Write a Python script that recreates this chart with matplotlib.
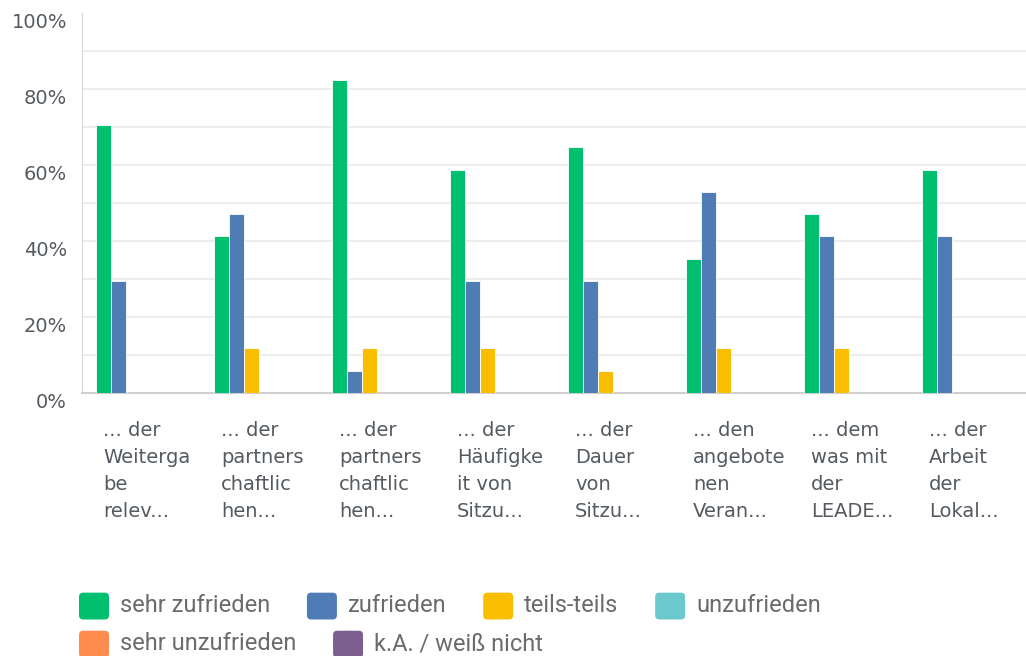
import numpy as np
import matplotlib
matplotlib.use('Agg')
import matplotlib.pyplot as plt
import matplotlib.transforms as mtransforms
from matplotlib.patches import FancyBboxPatch
from matplotlib.legend_handler import HandlerBase

categories = ['... der\nWeiterga\nbe\nrelev...',
              '... der\npartners\nchaftlic\nhen...',
              '... der\npartners\nchaftlic\nhen...',
              '... der\nHäufigke\nit von\nSitzu...',
              '... der\nDauer\nvon\nSitzu...',
              '... den\nangebote\nnen\nVeran...',
              '... dem\nwas mit\nder\nLEADE...',
              '... der\nArbeit\nder\nLokal...']

series = ['sehr zufrieden', 'zufrieden', 'teils-teils', 'unzufrieden',
          'sehr unzufrieden', 'k.A. / weiß nicht']
colors = ['#00BF6F', '#507CB6', '#F9BE00', '#6BC8CD', '#FF8B4F', '#7D5E90']

sehr_zufrieden = [70.6, 41.2, 82.4, 58.8, 64.7, 35.3, 47.1, 58.8]
zufrieden = [29.4, 47.1, 5.9, 29.4, 29.4, 52.9, 41.2, 41.2]
teils_teils = [0, 11.8, 11.8, 11.8, 5.9, 11.8, 11.8, 0]
unzufrieden = [0, 0, 0, 0, 0, 0, 0, 0]
sehr_unzufrieden = [0, 0, 0, 0, 0, 0, 0, 0]
ka = [0, 0, 0, 0, 0, 0, 0, 0]
values = [sehr_zufrieden, zufrieden, teils_teils, unzufrieden, sehr_unzufrieden, ka]


# rounded squares in the legend
class RoundBox(HandlerBase):
    def create_artists(self, legend, orig, xd, yd, width, height, fontsize, trans):
        color = orig.patches[0].get_facecolor()
        p = FancyBboxPatch((-xd, -yd - 3), width, height + 3,
                           boxstyle='round,pad=0,rounding_size=3',
                           facecolor=color, edgecolor='none', transform=trans)
        return [p]


plt.rcParams['font.family'] = ['DejaVu Sans']
text_col = '#555a60'

fig = plt.figure(figsize=(10.26, 6.56), dpi=100)
ax = fig.add_axes([0.080, 0.401, 0.920, 0.579])

x = np.arange(len(categories))
w = 0.127
bars = []
for j, (name, vals) in enumerate(zip(series, values)):
    b = ax.bar(x + (j - 2.5) * w, vals, w, color=colors[j], label=name,
               edgecolor='white', linewidth=0.6, zorder=3)
    bars.append(b)

ax.set_xlim(-0.5, len(categories) - 0.5)
ax.set_ylim(0, 100)
ax.set_yticks(np.arange(0, 101, 20))
ax.set_yticklabels([f'{v}%' for v in range(0, 101, 20)])
ax.set_yticks(np.arange(10, 100, 20), minor=True)
ax.yaxis.grid(True, which='both', color='#ececec', linewidth=1.3, zorder=0)
ax.yaxis.get_gridlines()[-1].set_visible(False)
ax.yaxis.get_gridlines()[0].set_visible(False)
ax.tick_params(axis='y', which='both', length=0, pad=10.8, labelsize=14, labelcolor=text_col)
for lab in ax.get_yticklabels():
    lab.set_va('top')

ax.set_xticks(x)
ax.set_xticklabels(categories, ha='left', va='top', linespacing=1.53)
ax.tick_params(axis='x', length=0, pad=20, labelsize=14, labelcolor=text_col)
offset = mtransforms.ScaledTranslation(-0.38, 0, fig.dpi_scale_trans)
for lab in ax.get_xticklabels():
    lab.set_transform(lab.get_transform() + offset)

for s in ['top', 'right']:
    ax.spines[s].set_visible(False)
ax.spines['left'].set_color('#d6d6d6')
ax.spines['bottom'].set_color('#cfcfcf')
ax.spines['bottom'].set_linewidth(1.5)

hmap = {b: RoundBox() for b in bars}
leg_kw = dict(frameon=False, labelcolor='#6b6b6b', handlelength=1.27,
              handleheight=1.1, handletextpad=0.47, columnspacing=1.55,
              borderpad=0, borderaxespad=0, handler_map=hmap,
              prop={'family': ['Roboto', 'DejaVu Sans'], 'size': 17})
fig.legend(bars[:4], series[:4], loc='center left', bbox_to_anchor=(0.077, 0.078),
           ncol=4, **leg_kw)
fig.legend(bars[4:], series[4:], loc='center left', bbox_to_anchor=(0.077, 0.020),
           ncol=2, **leg_kw)

fig.savefig('out.png', dpi=100)
